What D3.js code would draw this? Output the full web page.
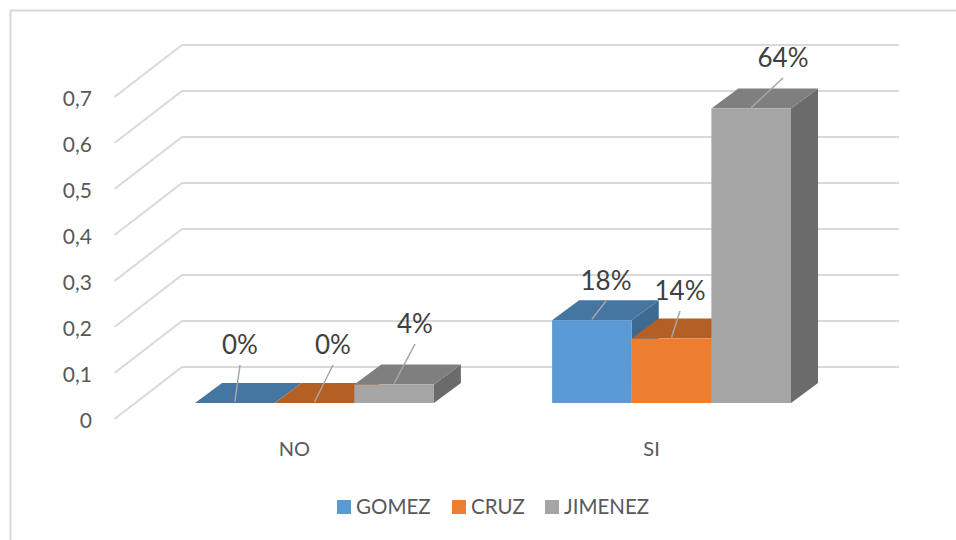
<!DOCTYPE html>
<html><head><meta charset="utf-8">
<script src="https://cdn.jsdelivr.net/npm/d3@7"></script>
<style>html,body{margin:0;padding:0;background:#fff}svg{display:block}text{font-family:Lato,"Open Sans",sans-serif}</style>
</head><body><div id="c"></div>
<script>
const categories = ["NO", "SI"];
const seriesNames = ["GOMEZ", "CRUZ", "JIMENEZ"];
const gomez = [0, 0.18];
const cruz = [0, 0.14];
const jimenez = [0.04, 0.64];
const tickValues = [0, 0.1, 0.2, 0.3, 0.4, 0.5, 0.6, 0.7];
const tickLabels = ["0", "0,1", "0,2", "0,3", "0,4", "0,5", "0,6", "0,7"];
const valueLabels = [["0%", "18%"], ["0%", "14%"], ["4%", "64%"]];

const front = ["#5b9bd5", "#ed7d31", "#a5a5a5"];
const top_ = ["#4575a1", "#b45f24", "#7f7f7f"];
const side = ["#3e6a91", "#a35620", "#6b6b6b"];
const series = [gomez, cruz, jimenez];

const W = 956, H = 540;
const svg = d3.select("#c").append("svg").attr("width", W).attr("height", H);
svg.append("path").attr("d", "M956,10.5H10.5V540").attr("fill", "none").attr("stroke", "#d9d9d9").attr("stroke-width", 2);

const dep = {x: 27, y: 20};          // bar depth
const wall = {x: 67.5, y: 52};       // side wall depth
const y = d3.scaleLinear().domain([0, 0.7]).range([403, 81]);  // front plane of bars
const backY = v => y(v) - 36;
const x0 = d3.scaleBand().domain(categories).range([195, 791]).paddingInner(0.331).paddingOuter(0);
const x1 = d3.scaleBand().domain(seriesNames).range([0, x0.bandwidth()]);

const grid = svg.append("g").attr("fill", "none").attr("stroke", "#d9d9d9").attr("stroke-width", 2);
tickValues.forEach(v => {
  const by = backY(v);
  grid.append("path").attr("d", `M${182 - wall.x},${by + wall.y}L182,${by}H899`);
});

const axis = svg.append("g").attr("font-size", 21).attr("fill", "#595959").attr("text-anchor", "end");
tickValues.forEach((v, i) => {
  axis.append("text").attr("x", 92).attr("y", backY(v) + wall.y + 8.5).text(tickLabels[i]);
});

categories.forEach(c => {
  svg.append("text").attr("x", x0(c) + x0.bandwidth() / 2 - 20).attr("y", 456)
    .attr("text-anchor", "middle").attr("font-size", 20).attr("fill", "#595959").text(c);
});

const leader = [
  [[240, 365], [606, 301]],
  [[333, 365], [680, 311]],
  [[415, 344], [783, 78]]
];
categories.forEach(c => {
  const ci = categories.indexOf(c);
  seriesNames.forEach((s, si) => {
    const v = series[si][ci];
    const xl = x0(c) + x1(s), xr = xl + x1.bandwidth(), yt = y(v), yb = y(0);
    const g = svg.append("g");
    g.append("path").attr("fill", side[si]).attr("d", `M${xr},${yt}l${dep.x},${-dep.y}V${yb - dep.y}L${xr},${yb}Z`);
    g.append("path").attr("fill", top_[si]).attr("d", `M${xl},${yt}l${dep.x},${-dep.y}H${xr + dep.x}L${xr},${yt}Z`);
    g.append("rect").attr("x", xl).attr("y", yt).attr("width", xr - xl).attr("height", yb - yt).attr("fill", front[si]);
  });
});
categories.forEach((c, ci) => {
  seriesNames.forEach((s, si) => {
    const v = series[si][ci];
    const cx = x0(c) + x1(s) + x1.bandwidth() / 2;
    const [lx, ly] = leader[si][ci];
    svg.append("line").attr("x1", cx).attr("y1", y(v) - 1).attr("x2", lx).attr("y2", ly)
      .attr("stroke", "#a6a6a6").attr("stroke-width", 1.5);
    svg.append("text").attr("x", lx).attr("y", ly - 11).attr("text-anchor", "middle")
      .attr("font-size", 26).attr("fill", "#404040").text(valueLabels[si][ci]);
  });
});

const lx = [337, 452, 545];
seriesNames.forEach((s, i) => {
  svg.append("rect").attr("x", lx[i]).attr("y", 500).attr("width", 14).attr("height", 14).attr("fill", front[i]);
  svg.append("text").attr("x", lx[i] + 19).attr("y", 514).attr("font-size", 20.5).attr("fill", "#595959").text(s);
});
</script></body></html>
